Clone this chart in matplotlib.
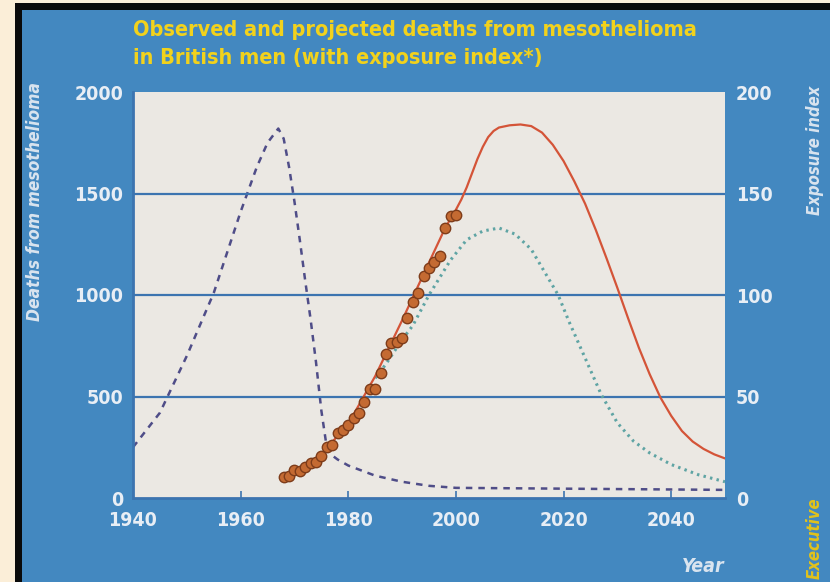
import matplotlib
matplotlib.use("Agg")
import matplotlib.pyplot as plt
from matplotlib.patches import Rectangle

plt.rcParams['font.family'] = ['DejaVu Sans']
plt.rcParams['font.stretch'] = 'condensed'

# observed deaths (dots)
obs_years = list(range(1968, 2001))
obs_deaths = [105, 108, 138, 135, 154, 171, 179, 207, 250, 261, 319, 335, 360,
              393, 417, 474, 535, 538, 614, 709, 762, 770, 787, 885, 967, 1008,
              1094, 1131, 1164, 1192, 1329, 1389, 1394]

# projected deaths (solid red)
proj_years = [1967.5, 1970, 1975, 1980, 1985, 1990, 1995, 1998, 2000, 2001, 2002,
              2003, 2004, 2005, 2006, 2007, 2008, 2010, 2012, 2014, 2016, 2018,
              2020, 2022, 2024, 2026, 2028, 2030, 2032, 2034, 2036, 2038, 2040,
              2042, 2044, 2046, 2048, 2050]
proj_deaths = [100, 130, 215, 365, 600, 875, 1160, 1330, 1420, 1470, 1530, 1600,
               1670, 1730, 1778, 1808, 1825, 1836, 1840, 1832, 1800, 1740, 1660,
               1560, 1450, 1320, 1180, 1035, 885, 740, 610, 495, 405, 330, 278, 242,
               215, 195]

# alternative projection (dotted teal)
alt_years = [1985, 1987, 1990, 1992, 1995, 1999, 2002, 2005, 2008, 2011, 2014,
             2017, 2019, 2021, 2024, 2027, 2030, 2033, 2036, 2040, 2045, 2050]
alt_deaths = [590, 660, 780, 850, 1000, 1172, 1272, 1315, 1330, 1300, 1225, 1090,
              1000, 870, 690, 510, 370, 280, 222, 165, 115, 80]

# exposure index (dashed, right axis)
exp_years = [1940, 1945, 1950, 1955, 1960, 1963, 1965, 1967, 1968, 1969, 1970,
             1971, 1972, 1973, 1974, 1975, 1976, 1977, 1978, 1980, 1985, 1990,
             1995, 2000, 2050]
exposure = [25, 42, 70, 101, 141, 163, 175, 182, 177, 163, 146, 127, 107, 88, 67,
            43, 25, 21, 19, 16, 11, 8, 6, 5, 4]

title = "Observed and projected deaths from mesothelioma\nin British men (with exposure index*)"

W, H = 830, 582
fig = plt.figure(figsize=(W / 100, H / 100), dpi=100)
fig.patch.set_facecolor('#fbeed8')
fig.patches.append(Rectangle((15 / W, 0), 1, (H - 3) / H, transform=fig.transFigure,
                             facecolor='#0a0a0a', edgecolor='none', zorder=-10))
fig.patches.append(Rectangle((22 / W, 0), 1, (H - 10) / H, transform=fig.transFigure,
                             facecolor='#4388c0', edgecolor='none', zorder=-9))

ax = fig.add_axes([133 / W, (H - 498) / H, 592 / W, 406 / H])
ax.set_xlim(1940, 2050)
ax.set_ylim(0, 2000)
ax.set_xticks([1940, 1960, 1980, 2000, 2020, 2040])
ax.set_yticks([0, 500, 1000, 1500, 2000])
for v in [500, 1000, 1500]:
    ax.axhline(v, color='#3c74b0', lw=1.6, zorder=1)

ax2 = ax.twinx()
ax2.set_ylim(0, 200)
ax2.set_yticks([0, 50, 100, 150, 200])

for a in (ax, ax2):
    for s in a.spines.values():
        s.set_visible(False)
for side in ['left', 'bottom']:
    ax.spines[side].set_visible(True)
    ax.spines[side].set_color('#3c74b0')
    ax.spines[side].set_linewidth(2)

lab = dict(colors='#e8eef5', labelsize=14)
ax.tick_params(axis='y', length=0, pad=7, **lab)
ax.tick_params(axis='x', direction='in', length=5, width=1.2, color='#3c74b0', pad=9, **lab)
ax2.tick_params(axis='y', length=0, pad=8, **lab)
for t in ax.get_xticklabels() + ax.get_yticklabels() + ax2.get_yticklabels():
    t.set_fontweight('bold')

ax2.plot(exp_years, exposure, color='#4f4d88', lw=1.8, ls=(0, (2.6, 2.4)), zorder=3)
ax.plot(alt_years, alt_deaths, color='#5fa4a4', lw=2.2, ls=(0, (0.8, 1.4)), zorder=3)
ax.plot(proj_years, proj_deaths, color='#d45438', lw=1.6, zorder=4)
ax.plot(obs_years, obs_deaths, 'o', ms=7.5, color='#c46a32', mec='#7e3c1a', mew=1,
        zorder=5)
ax.set_zorder(ax2.get_zorder() + 1)
ax.patch.set_visible(False)
ax2.patch.set_visible(True)
ax2.patch.set_facecolor('#ebe8e3')

fig.text(133 / W, 1 - 44 / H, title, color='#f2d21c', fontsize=15.5, fontweight='bold',
         ha='left', va='center', linespacing=1.45)
fig.text(35 / W, 1 - 202 / H, 'Deaths from mesothelioma', rotation=90, color='#d9e4ef',
         fontsize=12.5, fontweight='bold', style='italic', ha='center', va='center')
fig.text(815 / W, 1 - 150 / H, 'Exposure index', rotation=90, color='#d9e4ef',
         fontsize=12, fontweight='bold', style='italic', ha='center', va='center')
fig.text(725 / W, 1 - 567 / H, 'Year', color='#d9e4ef', fontsize=14,
         fontweight='bold', style='italic', ha='right', va='center')
fig.text(815 / W, 1 - 497 / H, 'Executive', rotation=90,
         color='#e2c21a', fontsize=12, fontweight='bold', style='italic',
         ha='center', va='top')

fig.savefig('out.png', dpi=100, facecolor=fig.get_facecolor())
